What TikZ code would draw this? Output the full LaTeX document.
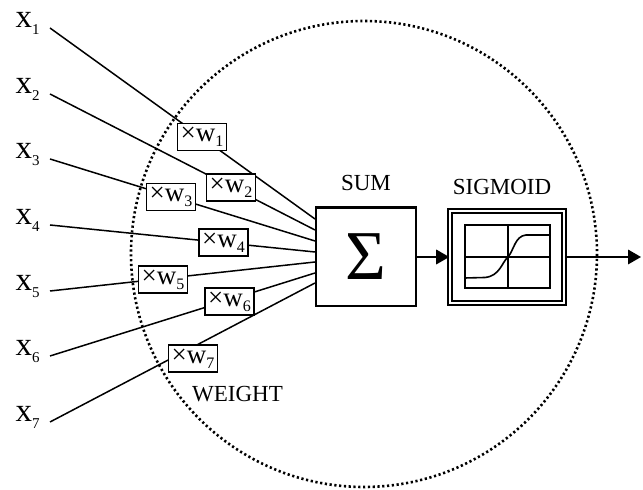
\documentclass[tikz,border=0pt]{standalone}
\usepackage{fontspec}
\setmainfont{Liberation Serif}
\usepackage{tikz}
\usetikzlibrary{arrows}
\usetikzlibrary{positioning}

\newcommand{\xin}[1]{{\fontsize{16.5}{17}\selectfont x}\raisebox{-3.5pt}{\fontsize{7.5}{8}\selectfont #1}}
\newcommand{\wmul}[1]{{\fontsize{13.5}{14}\selectfont ×w}\raisebox{-2.5pt}{\fontsize{8}{9}\selectfont #1}}

\begin{document}
\begin{tikzpicture}[x=0.5pt,y=-0.5pt,
    conn/.style={line width=0.75pt},
    inlbl/.style={anchor=base east,inner sep=0pt,inner xsep=5pt},
    wbox/.style={draw,fill=white,line width=0.75pt,minimum width=24.3pt,minimum height=13.3pt,inner sep=0.5pt},
    lbl/.style={inner sep=0pt,font=\fontsize{11.5}{12}\selectfont}]
          \useasboundingbox (0,0) rectangle (643,490);
          % neuron boundary
          \draw[line width=1.3pt,dash pattern=on 1.1pt off 1.3pt] (364,254) circle [radius=233];
          % inputs
          \node[inlbl] (x1) at (50,28) {\xin{1}};
          \node[inlbl] (x2) at (50,94) {\xin{2}};
          \node[inlbl] (x3) at (50,159) {\xin{3}};
          \node[inlbl] (x4) at (50,225) {\xin{4}};
          \node[inlbl] (x5) at (50,291) {\xin{5}};
          \node[inlbl] (x6) at (50,356) {\xin{6}};
          \node[inlbl] (x7) at (50,422) {\xin{7}};
          % ends on the sum box
          \coordinate (s1) at (315,219);
          \coordinate (s2) at (315,230);
          \coordinate (s3) at (315,241);
          \coordinate (s4) at (315,252);
          \coordinate (s5) at (315,262);
          \coordinate (s6) at (315,273);
          \coordinate (s7) at (315,283);
          % lines from inputs to sum
          \draw[conn] (x1.base east) -- (s1);
          \draw[conn] (x2.base east) -- (s2);
          \draw[conn] (x3.base east) -- (s3);
          \draw[conn] (x4.base east) -- (s4);
          \draw[conn] (x5.base east) -- (s5);
          \draw[conn] (x6.base east) -- (s6);
          \draw[conn] (x7.base east) -- (s7);
          % weights
          \node[wbox] (w1) at (202,137) {\wmul{1}};
          \node[wbox] (w2) at (231,187.5) {\wmul{2}};
          \node[wbox] (w3) at (171,197) {\wmul{3}};
          \node[wbox] (w4) at (223.5,242.5) {\wmul{4}};
          \node[wbox] (w5) at (163,279.5) {\wmul{5}};
          \node[wbox] (w6) at (229.5,301.5) {\wmul{6}};
          \node[wbox] (w7) at (193,358.5) {\wmul{7}};
          \node[lbl] (weight) at (237.5,394.5) {WEIGHT};
          % sum
          \node[draw,fill=white,line width=1.2pt,minimum width=49.8pt,minimum height=49.3pt,inner sep=0pt] (sum) at (366,257) {\fontsize{35}{35}\selectfont Σ};
          \node[lbl,above=7.5pt of sum] (sumlbl) {SUM};
          % sigmoid
          \node[draw,double,line width=0.8pt,double distance=1.3pt,minimum width=57pt,minimum height=46pt,inner sep=0pt] (sig) at (507,257) {};
          \node[lbl,above=7.5pt of sig,xshift=-2.5pt] (siglbl) {SIGMOID};
          \draw[line width=0.6pt] (465,225) rectangle (550,288);
          \draw[line width=0.6pt] (508,225) -- (508,288) (465,257) -- (550,257);
          \draw[line width=0.8pt] (465,278) -- (485,277.5) .. controls (500,276) and (502,262) .. (508,257) .. controls (514,250) and (515,236) .. (526,235) -- (550,235);
          % output
          \coordinate (out) at (641,257);
          \draw[conn,-triangle 60] (sum.east) -- (sig.west);
          \draw[conn,-triangle 60] (sig.east) -- (out);
        \end{tikzpicture}
\end{document}
